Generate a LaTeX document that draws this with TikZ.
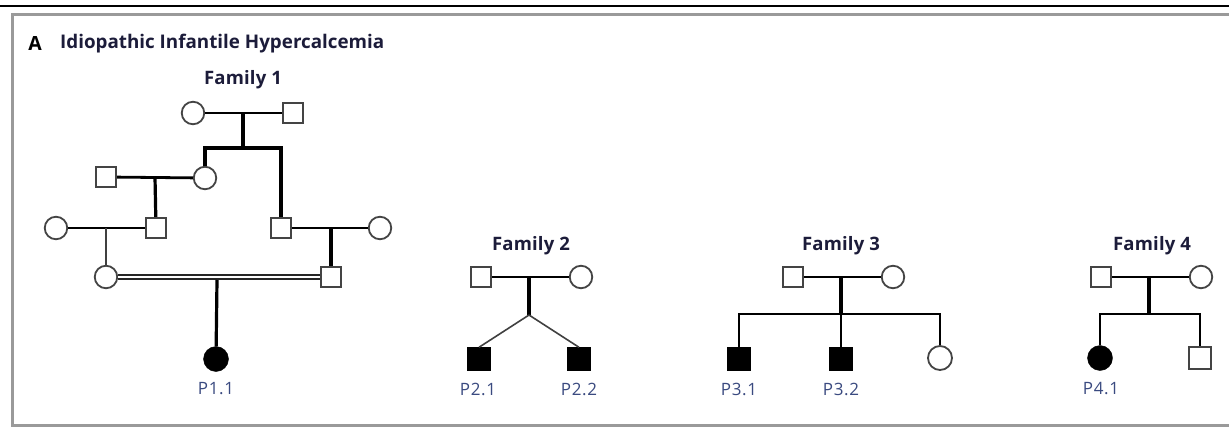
\documentclass[tikz,border=0pt]{standalone}
\usepackage{fontspec}
\setmainfont{Open Sans}
\newfontfamily\spacedF[LetterSpace=1]{Open Sans}
\newfontfamily\spacedL[LetterSpace=4]{Open Sans}
\usetikzlibrary{calc}
\definecolor{titlec}{HTML}{1C1C3A}
\definecolor{labc}{HTML}{3A4A80}
\definecolor{symc}{HTML}{444444}
\definecolor{framec}{HTML}{9A9A9A}
\begin{document}
\begin{tikzpicture}[x=1pt,y=-1pt,
  male/.style={rectangle,draw=symc,line width=1.8pt,fill=white,minimum size=20.5pt,inner sep=0pt},
  female/.style={circle,draw=symc,line width=1.8pt,fill=white,minimum size=22.5pt,inner sep=0pt},
  amale/.style={rectangle,fill=black,draw=black,minimum size=23pt,inner sep=0pt},
  afemale/.style={circle,fill=black,draw=black,minimum size=25pt,inner sep=0pt},
  mate/.style={line width=2.8pt,black},
  desc/.style={line width=3.2pt,black},
  sib/.style={line width=2pt,black},
  thinl/.style={line width=1.6pt,black!75},
  fam/.style={font=\spacedF\bfseries\fontsize{18.5}{21}\selectfont,text=titlec,inner sep=0pt},
  lab/.style={font=\spacedL\fontsize{17}{19}\selectfont,text=labc,inner sep=0pt},
]
\useasboundingbox (0,0) rectangle (1229,428);
\fill[white] (0,0) rectangle (1229,428);
% frame
\coordinate (ltop) at (0,6);
\coordinate (rtop) at (1229,6);
\draw[line width=2pt] (ltop) -- (rtop);
\coordinate (fr1) at (1235,15);
\coordinate (fr2) at (12,15);
\coordinate (fr3) at (12,425);
\coordinate (fr4) at (1235,425);
\draw[framec,line width=3pt] (fr1) -- (fr2) -- (fr3) -- (fr4);
% title
\node[font=\bfseries\fontsize{19.5}{21}\selectfont,inner sep=0pt] (tA) at (35,44) {A};
\node[font=\bfseries\fontsize{18.8}{21}\selectfont,text=titlec,anchor=west,inner sep=0pt] (ttl) at (60,44) {Idiopathic Infantile Hypercalcemia};

% ---------- Family 1
\node[fam] (fam1) at (243,80) {Family 1};
\node[female] (g1) at (193,113) {};
\node[male] (g2) at (293,113) {};
\node[female] (a1) at (205,178) {};
\node[male] (a0) at (106,177) {};
\node[male] (a2) at (281,228) {};
\node[female] (a3) at (380,228) {};
\node[female] (b0) at (56,228) {};
\node[male] (b1) at (156,228) {};
\node[female] (c1) at (106,277) {};
\node[male] (c2) at (331,277) {};
\node[afemale] (p11) at (216,359) {};
\node[lab] (l11) at (216,389) {P1.1};
\coordinate (m1) at (243,113);
\coordinate (s1) at (243,148);
\coordinate (m2) at (155,177);
\coordinate (m3) at (106,228);
\coordinate (m4) at (331,228);
\coordinate (m5) at (217,280);
\draw[mate] (g1) -- (g2);
\draw[desc] (m1) -- (s1);
\draw[desc] (a1) |- (s1) -| (a2);
\draw[mate] (a0) -- (a1);
\draw[desc] (m2) -- (b1);
\draw[mate] (b0) -- (b1);
\draw[mate] (a2) -- (a3);
\draw[thinl] (m3) -- (c1);
\draw[desc] (m4) -- (c2);
\draw[line width=1.7pt,black!85,double=white,double distance=2.8pt] (c1) -- (c2);
\draw[desc] (m5) -- (p11);

% ---------- Family 2
\node[fam] (fam2) at (531,246) {Family 2};
\node[male] (f2a) at (481,277) {};
\node[female] (f2b) at (581,277) {};
\node[amale] (p21) at (479,359) {};
\node[amale] (p22) at (579,359) {};
\node[lab] (l21) at (478,389) {P2.1};
\node[lab] (l22) at (579,389) {P2.2};
\coordinate (m6) at (529,277);
\coordinate (s2) at (529,315);
\draw[mate] (f2a) -- (f2b);
\draw[desc] (m6) -- (s2);
\draw[thinl] (s2) -- (p21.north);
\draw[thinl] (s2) -- (p22.north);

% ---------- Family 3
\node[fam] (fam3) at (841,246) {Family 3};
\node[male] (f3a) at (793,277) {};
\node[female] (f3b) at (893,277) {};
\node[amale] (p31) at (739,359) {};
\node[amale] (p32) at (841,359) {};
\node[female,minimum size=24pt] (f3c) at (940,358) {};
\node[lab] (l31) at (739,389) {P3.1};
\node[lab] (l32) at (841,389) {P3.2};
\coordinate (m7) at (841,277);
\coordinate (s3) at (841,314);
\draw[mate] (f3a) -- (f3b);
\draw[desc] (m7) -- (s3);
\draw[sib] (p31) |- (s3) -| (f3c);
\draw[sib] (s3) -- (p32);

% ---------- Family 4
\node[fam] (fam4) at (1152,246) {Family 4};
\node[male] (f4a) at (1101,277) {};
\node[female] (f4b) at (1201,277) {};
\node[afemale] (p41) at (1100,358) {};
\node[male,minimum size=21.5pt] (f4c) at (1200,358) {};
\node[lab] (l41) at (1101,389) {P4.1};
\coordinate (m8) at (1149,277);
\coordinate (s4) at (1149,314);
\draw[mate] (f4a) -- (f4b);
\draw[desc] (m8) -- (s4);
\draw[sib] (p41) |- (s4) -| (f4c);
\end{tikzpicture}
\end{document}
